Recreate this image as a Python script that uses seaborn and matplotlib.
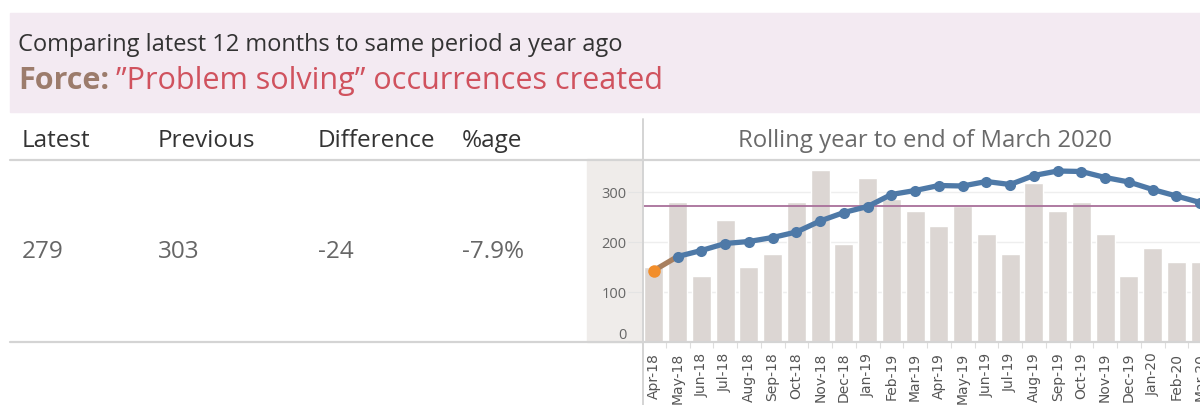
import pandas as pd
import matplotlib
matplotlib.use("Agg")
import matplotlib.pyplot as plt
import seaborn as sns

# values
months = ['Apr-18', 'May-18', 'Jun-18', 'Jul-18', 'Aug-18', 'Sep-18', 'Oct-18', 'Nov-18',
          'Dec-18', 'Jan-19', 'Feb-19', 'Mar-19', 'Apr-19', 'May-19', 'Jun-19', 'Jul-19',
          'Aug-19', 'Sep-19', 'Oct-19', 'Nov-19', 'Dec-19', 'Jan-20', 'Feb-20', 'Mar-20']
monthly = [150, 281, 133, 245, 150, 177, 281, 345, 197, 329, 287, 262,
           233, 273, 217, 177, 318, 262, 281, 217, 133, 189, 161, 161]
rolling = [143, 171, 183, 197, 201, 209, 220, 242, 259, 271, 295, 303,
           313, 312, 321, 315, 333, 342, 341, 329, 320, 305, 292, 279]
ref_value = 273
y_ticks = [0, 100, 200, 300]

headers = ['Latest', 'Previous', 'Difference', '%age']
values = ['279', '303', '-24', '-7.9%']

df = pd.DataFrame({'month': months, 'count': monthly, 'rolling': rolling})
df['pos'] = range(len(df))

sns.set_style("white")
plt.rcParams['font.family'] = ['Open Sans', 'DejaVu Sans']

W, H = 1200, 406
fig = plt.figure(figsize=(12, 4.06), dpi=100)


def fx(x):
    return x / W


def fy(y):
    return 1 - y / H


# pink header band
fig.patches.append(plt.Rectangle((fx(10), fy(113)), fx(1190), 99 / H,
                                 transform=fig.transFigure, color='#f3eaf2', zorder=-2))
# grey y-axis column
fig.patches.append(plt.Rectangle((fx(587), fy(343)), fx(55), 183 / H,
                                 transform=fig.transFigure, color='#efecea', zorder=-2))

# table rules
for yy in [160.5, 343]:
    fig.add_artist(plt.Line2D([fx(10), 1], [fy(yy), fy(yy)], transform=fig.transFigure,
                              color='#d4d4d4', lw=1.6, zorder=5))
fig.add_artist(plt.Line2D([fx(643), fx(643)], [fy(120), 0], transform=fig.transFigure,
                          color='#d4d4d4', lw=1.4, zorder=5))

# titles
fig.text(fx(18), fy(45), "Comparing latest 12 months to same period a year ago",
         fontsize=17, color='#333333', va='center')
t1 = fig.text(fx(18), fy(81), "Force:", fontsize=22, color='#9c7c6c',
              fontweight='bold', va='center')
fig.canvas.draw()
bb = t1.get_window_extent()
fig.text(bb.x1 / W + fx(7), fy(81), "\u201dProblem solving\u201d occurrences created",
         fontsize=22, color='#d0525e', va='center')

header_x = [22, 158, 318, 462]
for hx, h, v in zip(header_x, headers, values):
    fig.text(fx(hx), fy(141), h, fontsize=17.5, color='#333333', va='center')
    fig.text(fx(hx), fy(252), v, fontsize=17.5, color='#666666', va='center')

fig.text(fx(925), fy(141), "Rolling year to end of March 2020", fontsize=17.2,
         color='#6a6a6a', ha='center', va='center')

# chart
ax = fig.add_axes([fx(642), fy(343), fx(1212 - 642), (343 - 160.5) / H])
ax.patch.set_alpha(0)
sns.barplot(data=df, x='pos', y='count', color='#dcd6d3', width=0.8,
            saturation=1, ax=ax, zorder=2)
ax.axhline(ref_value, color='#a8709a', lw=1.3, zorder=3)

# first point in orange, the rest in blue
sns.lineplot(x=df['pos'][:2], y=df['rolling'][:2], color='#a88060', lw=3.8, ax=ax, zorder=4)
sns.lineplot(data=df.iloc[1:], x='pos', y='rolling', color='#4e79a7', lw=3.8,
             marker='o', markersize=8, markeredgewidth=0, ax=ax, zorder=5)
ax.plot(df['pos'][:1], df['rolling'][:1], 'o', color='#f28e2b', markersize=9,
        markeredgewidth=0, zorder=6)

ax.set_xlim(-0.5, len(months) - 0.5)
ax.set_ylim(0, 365)
ax.set_xticks(df['pos'])
ax.set_xticklabels(months, rotation=90, fontsize=10, color='#555555', family='DejaVu Sans')
ax.set_xticks([p + 0.5 for p in df['pos']], minor=True)
ax.tick_params(axis='x', which='major', length=0, pad=7)
ax.tick_params(axis='x', which='minor', length=4, color='#dddddd', width=0.8, bottom=True)
ax.set_yticks(y_ticks)
ax.set_yticklabels([str(t) for t in y_ticks], fontsize=10.5, color='#666666')
ax.tick_params(axis='y', length=10, color='#e4e4e4', pad=1, left=True)
ax.get_yticklabels()[0].set_va('bottom')
for t in y_ticks[1:]:
    ax.axhline(t, color='#eeeeee', lw=1, zorder=1)
ax.set_xlabel('')
ax.set_ylabel('')
for s in ax.spines.values():
    s.set_visible(False)

fig.savefig("out.png", dpi=100)
